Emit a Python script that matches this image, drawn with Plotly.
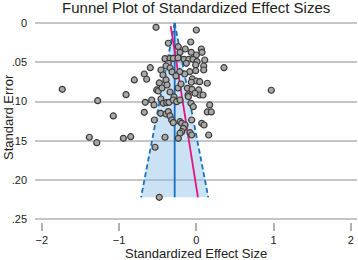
import plotly.graph_objects as go

# Study-level data
effect_size = [
    -0.521, 0.000, -0.362, -0.233, -0.072, -0.142, -0.065, 0.065, 0.074, 0.000,
    -0.211, -0.159, -0.098, -0.043, 0.009, 0.109, -0.405, -0.340, -0.298, -0.237,
    -0.129, -0.008, 0.096, 0.358, 0.096, -0.008, -0.085, -0.150, -0.215, -0.362,
    -0.392, -0.340, -0.595, -0.673, -0.642, -0.802, -0.457, -0.431, -0.314, -0.263,
    -0.052, 0.000, 0.044, 0.142, -0.065, -0.479, -0.392, -1.734, -0.909, -0.512,
    -0.492, -0.116, -0.056, 0.031, 0.970, -0.107, 0.044, 0.087, -0.444, -0.379,
    -0.340, -0.237, -0.198, -0.288, -0.017, -1.276, -0.660, -0.577, -0.547, -0.457,
    -0.427, -0.383, -0.353, -0.298, -0.254, -0.211, -0.103, -0.069, -0.039, 0.173,
    0.142, 0.194, -0.673, -0.461, -0.392, -0.362, -0.340, -1.074, -0.543, -0.318,
    -0.298, -0.211, -0.189, -0.146, -0.060, 0.070, 0.100, -0.168, -0.189, -0.211,
    -0.082, -0.060, 0.160, -1.384, -1.288, -0.944, -0.849, -0.405, -0.233, -0.534,
    -0.479,
]
standard_error = [
    0.0055, 0.0089, 0.0258, 0.0302, 0.0242, 0.0331, 0.0373, 0.0331, 0.0373, 0.0407,
    0.0373, 0.0462, 0.0462, 0.0462, 0.0492, 0.0471, 0.0454, 0.0449, 0.0449, 0.0445,
    0.0513, 0.0534, 0.0547, 0.0569, 0.0598, 0.0607, 0.0620, 0.0649, 0.0620, 0.0513,
    0.0547, 0.0573, 0.0569, 0.0649, 0.0716, 0.0725, 0.0598, 0.0662, 0.0623, 0.0674,
    0.0712, 0.0738, 0.0747, 0.0767, 0.0754, 0.0763, 0.0725, 0.0844, 0.0912, 0.0852,
    0.0865, 0.0831, 0.0844, 0.0852, 0.0856, 0.0916, 0.0916, 0.0916, 0.0827, 0.0789,
    0.0878, 0.0827, 0.0776, 0.0941, 0.0894, 0.0989, 0.1009, 0.0980, 0.1043, 0.0967,
    0.1022, 0.1014, 0.1009, 0.0980, 0.1001, 0.0980, 0.0938, 0.1022, 0.1065, 0.1043,
    0.1132, 0.1132, 0.1136, 0.1149, 0.1158, 0.1128, 0.1183, 0.1183, 0.1234, 0.1234,
    0.1268, 0.1256, 0.1276, 0.1298, 0.1234, 0.1276, 0.1298, 0.1340, 0.1383, 0.1403,
    0.1396, 0.1425, 0.1425, 0.1454, 0.1523, 0.1467, 0.1447, 0.1454, 0.1467, 0.1581,
    0.2218,
]

# Summary quantities
pooled_effect = -0.28
z_crit = 1.96
egger_intercept = -0.338
egger_slope = 1.62

x_ticks = [-2, -1, 0, 1, 2]
x_tick_labels = ["\u22122", "\u22121", "0", "1", "2"]
y_ticks = [0, 0.05, 0.10, 0.15, 0.20, 0.25]
y_tick_labels = ["0", ".05", ".10", ".15", ".20", ".25"]

se_max = max(standard_error)
se_line = [0, se_max]
left_edge = [pooled_effect - z_crit * s for s in se_line]
right_edge = [pooled_effect + z_crit * s for s in se_line]
egger_x = [egger_intercept + egger_slope * s for s in [0.004, se_max]]

BLUE = "#1570c4"
TXT = "#222"
fig = go.Figure()

fig.add_trace(go.Scatter(
    x=[pooled_effect, left_edge[1], right_edge[1], pooled_effect],
    y=[0, se_max, se_max, 0],
    fill="toself", fillcolor="rgba(130,185,232,0.42)",
    line=dict(width=0), mode="lines", hoverinfo="skip", showlegend=False))
fig.add_trace(go.Scatter(x=left_edge, y=se_line, mode="lines",
                         line=dict(color=BLUE, width=1.8, dash="5px,3px"), showlegend=False))
fig.add_trace(go.Scatter(x=right_edge, y=se_line, mode="lines",
                         line=dict(color=BLUE, width=1.8, dash="5px,3px"), showlegend=False))
fig.add_trace(go.Scatter(x=[pooled_effect, pooled_effect], y=se_line, mode="lines",
                         line=dict(color=BLUE, width=1.8), showlegend=False))
fig.add_trace(go.Scatter(x=egger_x, y=[0.004, se_max], mode="lines",
                         line=dict(color="#e5157f", width=1.8), showlegend=False))
fig.add_trace(go.Scatter(
    x=effect_size, y=standard_error, mode="markers",
    marker=dict(size=6, color="#a8a8a8", line=dict(color="#3a3a3a", width=1.2)),
    showlegend=False))

fig.update_layout(
    width=358, height=260,
    margin=dict(l=35, r=1, t=20, b=38, autoexpand=False),
    paper_bgcolor="white", plot_bgcolor="white",
    font=dict(family="Liberation Sans, Arial, sans-serif", color=TXT),
    title=dict(text="Funnel Plot of Standardized Effect Sizes", x=0.548, xanchor="center",
               y=1 - 8 / 260, yanchor="middle", font=dict(size=15, color=TXT)),
    annotations=[
        dict(text="Standardized Effect Size", xref="paper", yref="paper",
             x=0.5, y=-32 / 202, xanchor="center", yanchor="middle",
             showarrow=False, font=dict(size=13, color=TXT)),
        dict(text="Standard Error", xref="paper", yref="paper",
             x=-27 / 322, y=(222 - 117) / 202, xanchor="center", yanchor="middle",
             textangle=-90, showarrow=False, font=dict(size=13, color=TXT)),
    ],
)
fig.update_xaxes(
    range=[-2.087, 2.079], tickvals=x_ticks, ticktext=x_tick_labels,
    showgrid=False, zeroline=False, showline=False, automargin=False,
    ticks="outside", ticklen=8, tickwidth=1.5, tickcolor="#b0b0b0",
    tickfont=dict(size=11, color=TXT),
)
fig.update_yaxes(
    range=[0.2532, -0.0038], tickvals=y_ticks, ticktext=y_tick_labels,
    showgrid=True, gridcolor="#c6c6c6", gridwidth=1.5, zeroline=False, showline=False,
    automargin=False, ticks="", ticklabelstandoff=7,
    tickfont=dict(size=11, color=TXT),
)

fig.write_html(
    "out.html",
    config={"displayModeBar": False},
    post_script="document.body.style.margin='0';document.body.style.padding='0';",
)
